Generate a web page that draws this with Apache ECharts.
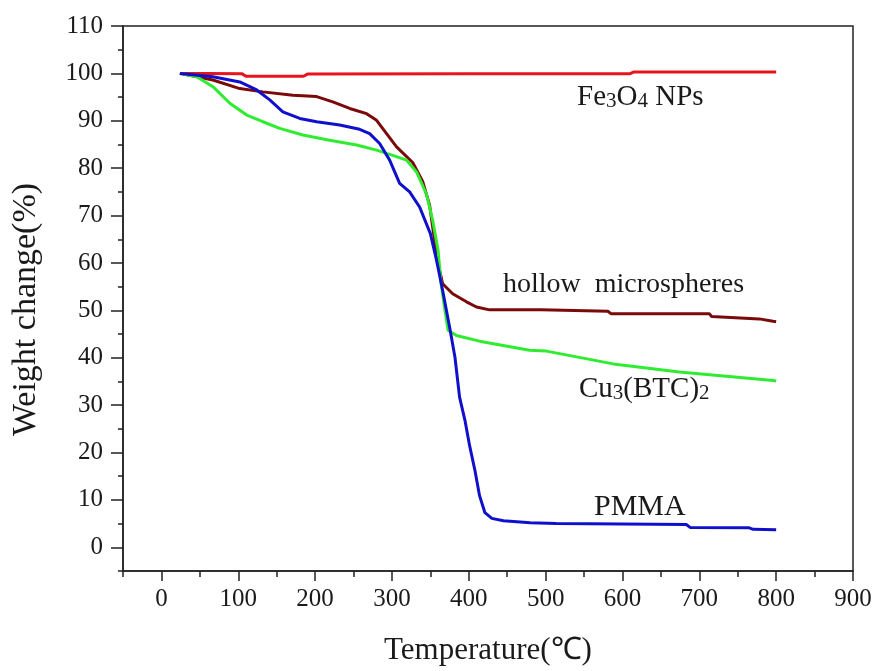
<!DOCTYPE html>
<html>
<head>
<meta charset="utf-8">
<script src="https://cdn.jsdelivr.net/npm/echarts@6/dist/echarts.min.js"></script>
<style>
html,body{margin:0;padding:0;background:#fff;}
#chart{width:877px;height:671px;}
</style>
</head>
<body>
<div id="chart"></div>
<script>
// Tick labels
var xTicks = [0, 100, 200, 300, 400, 500, 600, 700, 800, 900];
var yTicks = [0, 10, 20, 30, 40, 50, 60, 70, 80, 90, 100, 110];

// Series: [temperature (°C), weight change (%)]
var fe3o4 = [[25,100],[60,100],[105,99.9],[110,99.4],[185,99.4],[190,99.85],[400,99.9],[610,99.95],[615,100.3],[800,100.3]];
var hollow = [[24,100],[67,98.6],[102,96.8],[132,96.1],[171,95.4],[202,95.1],[223,94.0],[245,92.6],[267,91.5],[280,90.1],[293,87.3],[306,84.5],[327,81.2],[340,77.2],[349,72.2],[356,64.1],[360,59.9],[366,55.6],[379,53.5],[397,51.8],[410,50.7],[427,50.1],[494,50.1],[495,49.8],[581,49.8],[585,49.3],[713,49.3],[716,48.7],[778,48.2],[796,47.7],[800,47.6]];
var cu3btc2 = [[24,100],[46,99.3],[67,97.2],[89,93.7],[111,91.2],[132,89.8],[154,88.4],[184,87.0],[219,85.9],[254,84.9],[280,83.8],[301,82.7],[319,81.7],[332,79.2],[345,74.5],[353,69.0],[360,62.7],[364,55.6],[369,50.0],[373,45.8],[384,44.7],[414,43.5],[479,41.6],[501,41.4],[588,38.7],[674,37.0],[796,35.2],[800,35.1]];
var pmma = [[24,100],[67,99.3],[102,98.2],[124,96.5],[141,94.4],[158,91.9],[180,90.5],[202,89.8],[232,89.1],[258,88.2],[271,87.3],[284,85.2],[297,81.7],[310,76.8],[323,75.0],[336,71.8],[350,66.2],[358,60.6],[366,54.2],[375,46.5],[382,40.1],[388,31.7],[395,26.8],[401,21.5],[408,16.2],[414,10.9],[421,7.3],[430,6.1],[445,5.6],[480,5.2],[514,5.0],[600,4.9],[683,4.8],[688,4.2],[765,4.1],[770,3.8],[800,3.7]];

var seriesNames = ['Fe3O4 NPs', 'hollow microspheres', 'Cu3(BTC)2', 'PMMA'];
var seriesData = [fe3o4, hollow, cu3btc2, pmma];
var seriesColors = ['#e8141c', '#7a0a0a', '#30ec30', '#1010cc'];

var FONT = '"Liberation Serif", "Times New Roman", serif';
var TXT = '#1a1a1a';
var xMinor = xTicks.map(function(v){return v - 50;});
var yMinor = yTicks.map(function(v){return v - 5;});

var chart = echarts.init(document.getElementById('chart'));
var option = {
  animation: false,
  backgroundColor: '#fff',
  grid: {left: 123, right: 24, top: 26, bottom: 98, show: true, borderColor: '#222', borderWidth: 1.5, backgroundColor: 'transparent'},
  xAxis: [{
    type: 'value', min: -50, max: 900, position: 'bottom',
    name: 'Temperature(\u2103)', nameLocation: 'middle', nameGap: 64,
    nameTextStyle: {fontFamily: FONT, fontSize: 31, color: TXT},
    axisLine: {show: true, onZero: false, lineStyle: {color: '#222', width: 1.5}},
    axisTick: {show: true, customValues: xTicks, length: 10, lineStyle: {color: '#222', width: 1.5}},
    axisLabel: {customValues: xTicks, fontFamily: FONT, fontSize: 25, color: TXT, margin: 16},
    splitLine: {show: false}
  }, {
    type: 'value', min: -50, max: 900, position: 'bottom', gridIndex: 0,
    axisLine: {show: false, onZero: false},
    axisTick: {show: true, customValues: xMinor, length: 6, lineStyle: {color: '#222', width: 1.5}},
    axisLabel: {show: false},
    splitLine: {show: false}
  }],
  yAxis: [{
    type: 'value', min: -5, max: 110, position: 'left',
    name: 'Weight change(%)', nameLocation: 'middle', nameGap: 80, nameRotate: 90,
    nameTextStyle: {fontFamily: FONT, fontSize: 34, color: TXT, padding: [0, 22, 0, 0]},
    axisLine: {show: true, onZero: false, lineStyle: {color: '#222', width: 1.5}},
    axisTick: {show: true, customValues: yTicks, length: 12, lineStyle: {color: '#222', width: 1.5}},
    axisLabel: {customValues: yTicks, fontFamily: FONT, fontSize: 25, color: TXT, margin: 20},
    splitLine: {show: false}
  }, {
    type: 'value', min: -5, max: 110, position: 'left', gridIndex: 0,
    axisLine: {show: false, onZero: false},
    axisTick: {show: true, customValues: yMinor, length: 5, lineStyle: {color: '#222', width: 1.5}},
    axisLabel: {show: false},
    splitLine: {show: false}
  }],
  series: seriesData.map(function(d, i){
    return {
      name: seriesNames[i], type: 'line', data: d, showSymbol: false, smooth: false,
      xAxisIndex: 0, yAxisIndex: 0,
      lineStyle: {color: seriesColors[i], width: 3}, z: 3 + (i === 3 ? 1 : 0)
    };
  }),
  graphic: [
    {type: 'text', left: 577, top: 83, style: {
      text: '{n|Fe}{s|3}{n|O}{s|4}{n| NPs}', fill: TXT,
      rich: {n: {fontFamily: FONT, fontSize: 29, lineHeight: 32, verticalAlign: 'bottom', fill: TXT},
             s: {fontFamily: FONT, fontSize: 21, lineHeight: 16, verticalAlign: 'bottom', fill: TXT}}
    }},
    {type: 'text', left: 503, top: 271, style: {text: 'hollow  microspheres', font: '28px ' + FONT, fill: TXT}},
    {type: 'text', left: 579, top: 375, style: {
      text: '{n|Cu}{s|3}{n|(BTC)}{s|2}', fill: TXT,
      rich: {n: {fontFamily: FONT, fontSize: 29, lineHeight: 32, verticalAlign: 'bottom', fill: TXT},
             s: {fontFamily: FONT, fontSize: 21, lineHeight: 16, verticalAlign: 'bottom', fill: TXT}}
    }},
    {type: 'text', left: 594, top: 492, style: {text: 'PMMA', font: '30px ' + FONT, fill: TXT}}
  ]
};
chart.setOption(option);
</script>
</body>
</html>
